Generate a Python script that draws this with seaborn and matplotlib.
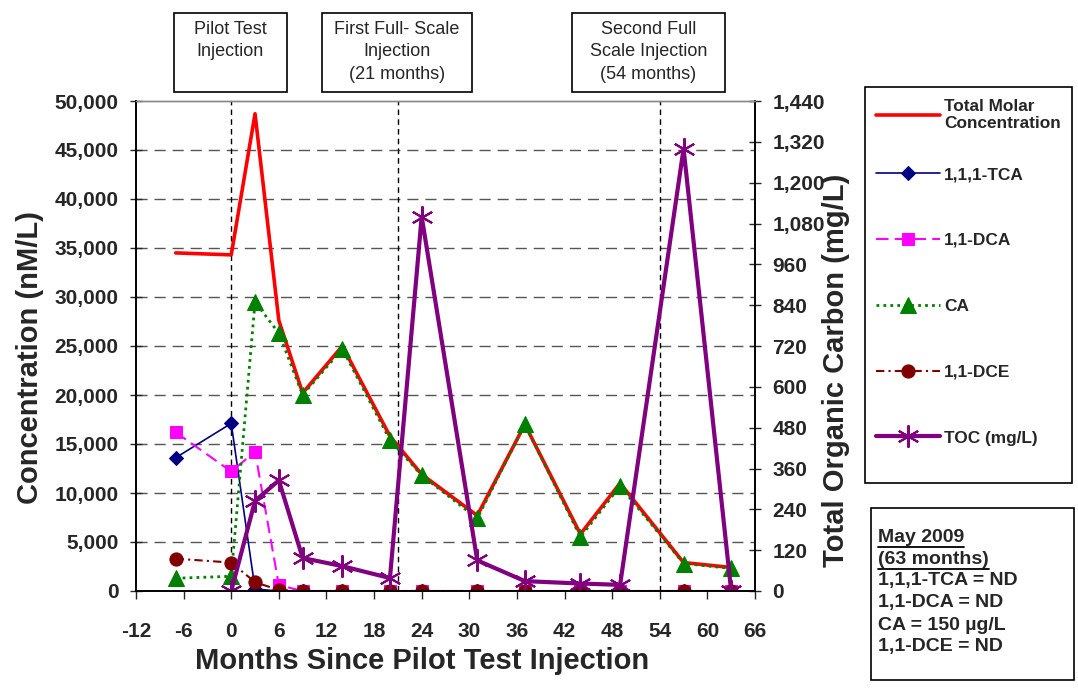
import seaborn as sns
import matplotlib.pyplot as plt
from matplotlib.patches import Rectangle
from matplotlib.lines import Line2D
from matplotlib.ticker import FuncFormatter, MultipleLocator

months = [-7, 0, 3, 6, 9, 14, 20, 24, 31, 37, 44, 49, 57, 63]
total_molar = [34500, 34300, 48700, 27600, 20200, 25000, 15800, 11900, 7700, 17000, 5800, 11000, 2900, 2400]
tca = [13600, 17100, 200, 0, 0, 0, 0, 0, 0, 0, 0, 0, 0, 0]
dca = [16200, 12200, 14200, 600, 0, 0, 0, 0, 0, 0, 0, 0, 0, 0]
ca = [1300, 1500, 29500, 26300, 20000, 24700, 15400, 11800, 7400, 17000, 5500, 10700, 2800, 2300]
dce = [3300, 2900, 900, 100, 0, 0, 0, 0, 0, 0, 0, 0, 0, 0]
toc_months = [0, 3, 6, 9, 14, 20, 24, 31, 37, 44, 49, 57, 63]
toc = [0, 265, 325, 97, 73, 38, 1100, 90, 29, 22, 18, 1300, 0]

injections = [0, 21, 54]
box_texts = ['Pilot Test\nInjection', 'First Full- Scale\nInjection\n(21 months)',
             'Second Full\nScale Injection\n(54 months)']
note_lines = ['May 2009', '(63 months)', '1,1,1-TCA = ND', '1,1-DCA = ND',
              'CA = 150 \u00b5g/L', '1,1-DCE = ND']

sns.set_style('white')
plt.rcParams['font.family'] = ['Liberation Sans', 'DejaVu Sans']
plt.rcParams['axes.unicode_minus'] = False

W, H = 1078, 688
fig = plt.figure(figsize=(W / 100, H / 100), dpi=100)
ax = fig.add_axes([136 / W, 97 / H, 619 / W, 490 / H])

sns.lineplot(x=months, y=total_molar, ax=ax, color='#ff0000', lw=2.6,
             label='Total Molar\nConcentration', errorbar=None)
sns.lineplot(x=months, y=tca, ax=ax, color='#000080', lw=1.2, marker='D', markersize=7.5,
             markeredgecolor='#000080', label='1,1,1-TCA', errorbar=None)
sns.lineplot(x=months, y=dca, ax=ax, color='#ff00ff', lw=1.5, dashes=(6, 3), marker='s', markersize=9,
             markeredgecolor='#ff00ff', label='1,1-DCA', errorbar=None)
sns.lineplot(x=months, y=ca, ax=ax, color='#008000', lw=2, dashes=(1, 1.5), marker='^', markersize=11,
             markeredgecolor='#008000', label='CA', errorbar=None)
sns.lineplot(x=months, y=dce, ax=ax, color='#800000', lw=1.5, dashes=(4, 2, 1, 2), marker='o', markersize=9.5,
             markeredgecolor='#800000', label='1,1-DCE', errorbar=None)

ax.set_xlim(-12, 66)
ax.set_ylim(0, 50000)
ax.xaxis.set_major_locator(MultipleLocator(6))
ax.yaxis.set_major_locator(MultipleLocator(5000))
ax.yaxis.set_major_formatter(FuncFormatter(lambda v, p: f'{v:,.0f}'))
ax.grid(False)
for v in range(5000, 50000, 5000):
    ax.axhline(v, color='#555555', lw=1, dashes=(8, 5), zorder=0)
for m in injections:
    ax.axvline(m, color='black', lw=1, dashes=(4, 3), zorder=0.5)

ax2 = ax.twinx()
sns.lineplot(x=toc_months, y=toc, ax=ax2, color='#800080', lw=3, marker=(6, 2, 0), markersize=16,
             markeredgewidth=1.5, markeredgecolor='#800080', label='TOC (mg/L)', errorbar=None)
ax2.set_ylim(0, 1440)
ax2.yaxis.set_major_locator(MultipleLocator(120))
ax2.yaxis.set_major_formatter(FuncFormatter(lambda v, p: f'{v:,.0f}'))
ax2.grid(False)

for a in (ax, ax2):
    for s in a.spines.values():
        s.set_color('black')
        s.set_linewidth(1.2)
    a.spines['top'].set_color('#888888')
    a.spines['top'].set_linewidth(1)
ax.tick_params(axis='y', direction='inout', length=9, width=1, pad=8, labelsize=15, left=True)
ax.tick_params(axis='x', direction='out', length=6, width=1, pad=16, labelsize=15, bottom=True)
ax2.tick_params(axis='y', direction='inout', length=9, width=1, pad=8, labelsize=15, right=True)
for lab in ax.get_xticklabels() + ax.get_yticklabels() + ax2.get_yticklabels():
    lab.set_fontweight('bold')

ax.set_xlabel('Months Since Pilot Test Injection', fontsize=21, fontweight='bold')
ax.set_ylabel('Concentration (nM/L)', fontsize=21, fontweight='bold')
ax2.set_ylabel('Total Organic Carbon (mg/L)', fontsize=21, fontweight='bold', rotation=90)
ax.xaxis.set_label_coords((422 - 136) / 619, -(661 - 591) / 490)
ax.xaxis.label.set_va('center')
ax.yaxis.set_label_coords((30 - 136) / 619, (591 - 358) / 490)
ax.yaxis.label.set_va('center')
ax2.yaxis.set_label_coords((836 - 136) / 619, (591 - 370) / 490)
ax2.yaxis.label.set_va('center')

# legend from both axes: first entry separate (two-line label), frame drawn by hand
h1, l1 = ax.get_legend_handles_labels()
h2, l2 = ax2.get_legend_handles_labels()
ax.get_legend().remove()
ax2.get_legend().remove()
handles = h1 + h2
labels = l1 + l2
leg_kw = dict(loc='upper left', frameon=False, prop={'weight': 'bold', 'size': 12.4}, handlelength=3.7,
              handletextpad=0.25, borderaxespad=0, borderpad=0, numpoints=1)
fig.legend(handles[:1], labels[:1], bbox_to_anchor=(876 / W, 1 - 99 / H), **leg_kw)
fig.legend(handles[1:], labels[1:], bbox_to_anchor=(876 / W, 1 - 167 / H), labelspacing=2.95, **leg_kw)
fig.add_artist(Rectangle((865 / W, 1 - 483 / H), 207 / W, 396 / H, transform=fig.transFigure,
                         fill=False, edgecolor='black', lw=1.2))

# injection boxes above the plot
boxes = [(174, 287), (322, 472), (572, 725)]
for (x0, x1), txt in zip(boxes, box_texts):
    fig.add_artist(Rectangle((x0 / W, 1 - 92 / H), (x1 - x0) / W, 79 / H, transform=fig.transFigure,
                             fill=False, edgecolor='black', lw=1.2))
    fig.text((x0 + x1) / 2 / W, 1 - 21 / H, txt, ha='center', va='top', fontsize=13, linespacing=1.42)

# note box
fig.add_artist(Rectangle((871 / W, 1 - 680 / H), 203 / W, 172 / H, transform=fig.transFigure,
                         fill=False, edgecolor='black', lw=1.2))
note_objs = []
for i, line in enumerate(note_lines):
    t = fig.text(878 / W, 1 - (537 + 22 * i) / H, line, ha='left', va='center', fontsize=14, fontweight='bold')
    note_objs.append(t)
fig.canvas.draw()
r = fig.canvas.get_renderer()
for t in note_objs[:2]:
    bb = t.get_window_extent(renderer=r)
    y = (bb.y0 - 1) / H
    fig.add_artist(Line2D([bb.x0 / W, bb.x1 / W], [y, y], transform=fig.transFigure, color='black', lw=1.3))

fig.savefig('out.png', dpi=100)
